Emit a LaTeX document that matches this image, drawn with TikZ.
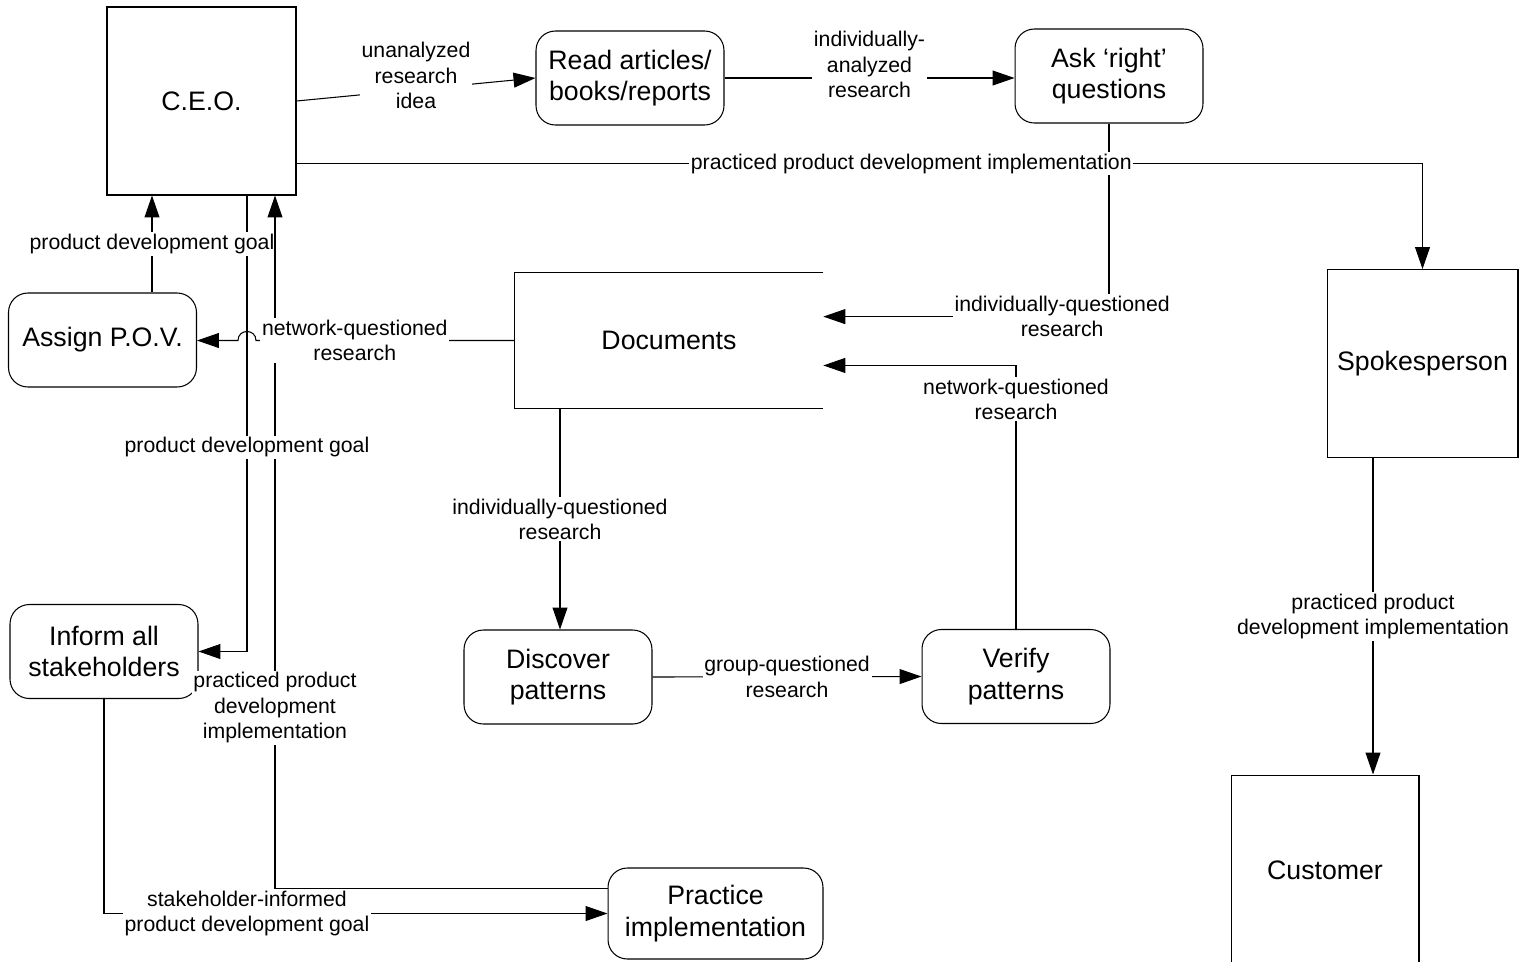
\documentclass[tikz,border=0pt]{standalone}
\usepackage{fontspec}
\setmainfont{Liberation Sans}
\usetikzlibrary{arrows.meta, calc, positioning}
\tikzset{>={Triangle[length=12.5pt,width=8.5pt]}}
\tikzset{
  box/.style={draw, line width=0.6pt, minimum width=3.78cm, minimum height=3.76cm, font=\fontsize{15.2}{18}\selectfont},
  proc/.style={draw, rounded corners=11pt, line width=0.6pt, minimum width=3.76cm, minimum height=1.88cm, align=center, font=\fontsize{15.2}{18}\selectfont},
  store/.style={minimum width=6.16cm, minimum height=2.72cm, font=\fontsize{15.2}{18}\selectfont},
  lbl/.style={fill=white, inner sep=1pt, align=center, font=\fontsize{12.1}{14.5}\selectfont},
  flow/.style={->, line width=0.6pt},
}

\begin{document}
\begin{tikzpicture}[x=0.02cm, y=-0.02cm]
  \useasboundingbox (0,0) rectangle (1528,961);
  \clip (0,0) rectangle (1528,961);

  % entities and processes
  \node[box] (ceo) at (201.5,101) {C.E.O.};
  \node[proc] (read) at (630,78) {Read articles/\\books/reports};
  \node[proc] (ask) at (1109,76) {Ask ‘right’\\questions};
  \node[proc] (pov) at (102.5,340) {Assign P.O.V.};
  \node[store] (docs) at (669,340.5) {Documents};
  \draw[line width=0.6pt] (docs.north east) -- (docs.north west) -- (docs.south west) -- (docs.south east);
  \node[box, minimum width=3.82cm] (spk) at (1422.5,363.5) {Spokesperson};
  \node[proc] (inform) at (104,651.5) {Inform all\\stakeholders};
  \node[proc] (disc) at (558,677) {Discover\\patterns};
  \node[proc] (verify) at (1016,676.5) {Verify\\patterns};
  \node[proc, minimum width=4.3cm, minimum height=1.82cm] (pract) at (715.5,913.5) {Practice\\implementation};
  \node[box, minimum width=3.76cm, minimum height=3.8cm] (cust) at (1325,870) {Customer};

  % helper points
  \coordinate (cdown) at ($(ceo.south)+(45.5,0)$);
  \coordinate (cup) at ($(ceo.south)+(73.5,0)$);
  \coordinate (cside) at ($(ceo.south east)+(0,-32)$);
  \coordinate (povtop) at ($(pov.north)+(49.5,0)$);
  \coordinate (spkout) at ($(spk.south)+(-49.5,0)$);
  \coordinate (docsout) at ($(disc.north)+(2,0)$);
  \coordinate (hopR) at ($(docs.west -| cdown)+(9,0)$);
  \coordinate (hopL) at ($(docs.west -| cdown)+(-9,0)$);

  % data flows
  \draw[flow] (ceo.east) -- node[lbl, yshift=8pt]{unanalyzed\\research\\idea} (read.west);
  \draw[flow] (read.east) -- node[lbl, yshift=7.5pt]{individually-\\analyzed\\research} (read.east -| ask.west);
  \draw[flow] (ask.south) |- node[lbl, pos=0.582]{individually-questioned\\research} ([yshift=13.6pt]docs.east);
  \draw[flow] (cside) -- node[lbl, pos=0.546]{practiced product development implementation} (cside -| spk.north) -- (spk.north);
  \draw[flow] (verify.north) |- node[lbl, pos=0.436]{network-questioned\\research} ([yshift=-14.2pt]docs.east);
  \draw[flow] (docsout |- docs.south) -- node[lbl]{individually-questioned\\research} (docsout);
  \draw[flow] (disc.east) -- node[lbl]{group-questioned\\research} (verify.west);
  \draw[flow] ([yshift=14.5pt]pract.west) -| node[lbl, pos=0.63]{practiced product\\development\\implementation} (cup);
  \draw[flow] (cdown) |- node[lbl, pos=0.276]{product development goal} (inform.east);
  \draw[flow] (docs.west) -- node[lbl, pos=0.618]{network-questioned\\research} (hopR)
    .. controls ($(hopR)+(0,-12)$) and ($(hopL)+(0,-12)$) .. (hopL) -- (hopL -| pov.east);
  \draw[flow] (povtop) -- node[lbl, inner xsep=0pt]{product development goal} (povtop |- ceo.south);
  \draw[flow] (inform.south) |- node[lbl, pos=0.642]{stakeholder-informed\\product development goal} (pract.west);
  \draw[flow] (spkout) -- node[lbl]{practiced product\\development implementation} (spkout |- cust.north);
\end{tikzpicture}
\end{document}
